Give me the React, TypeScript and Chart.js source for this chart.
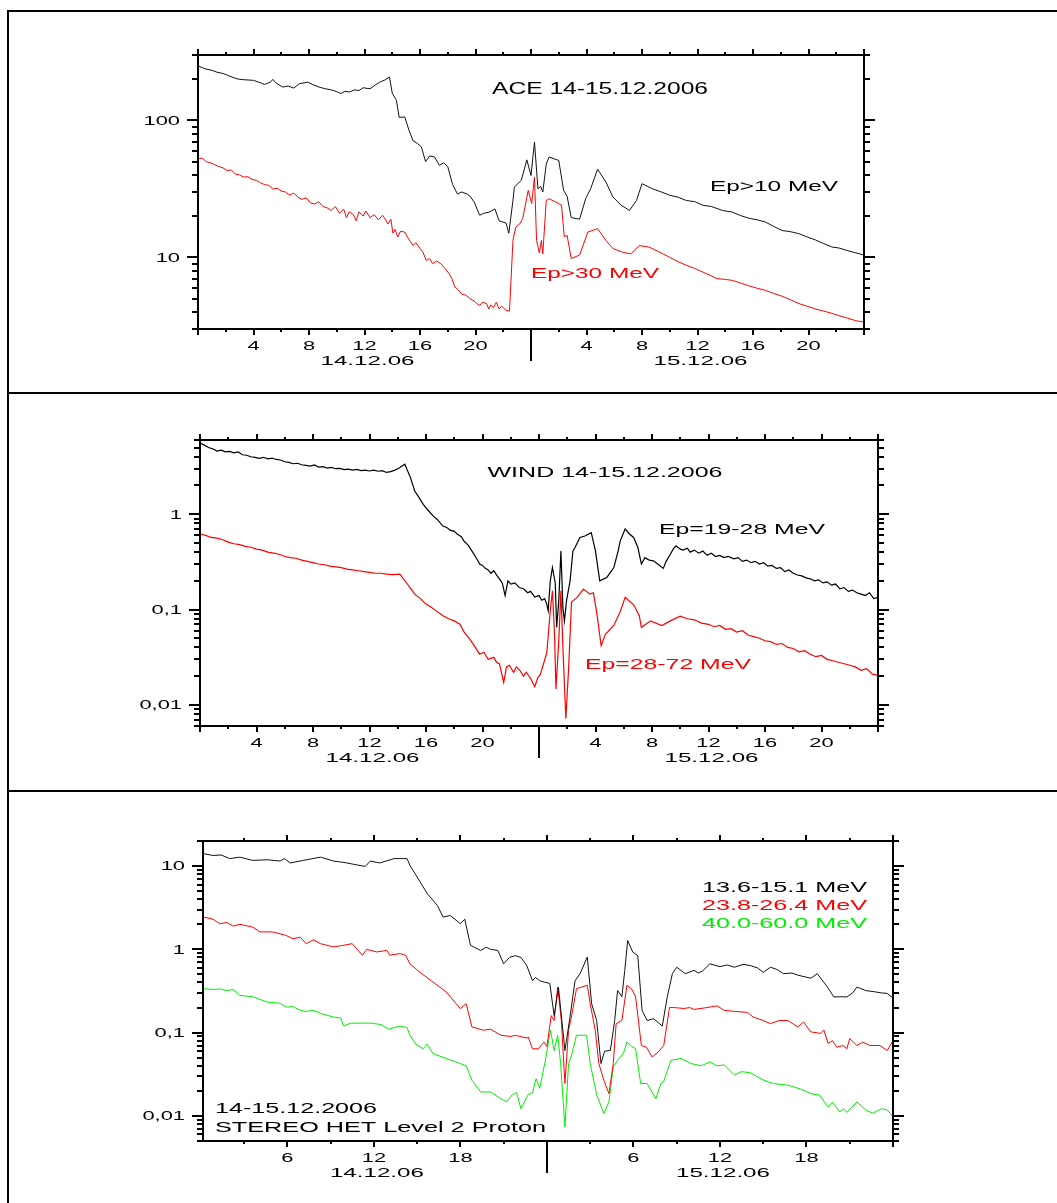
import React, { useEffect, useRef } from 'react';
import { Chart, registerables } from 'chart.js';

Chart.register(...registerables);

// ---- ACE, 14-15.12.2006: [hours since 14.12 00 UT, proton flux] ----
const aceP10: [number, number][] = [
  [0, 250], [0.5, 238], [1.0, 232], [1.35, 225], [1.8, 220], [2.3, 210], [2.8, 201], [3.3, 198],
  [4.0, 196], [4.5, 188], [4.8, 183], [5.2, 190], [5.4, 199], [5.6, 188], [6.1, 175], [6.5, 178],
  [6.9, 172], [7.3, 185], [7.9, 190], [8.3, 182], [8.8, 174], [9.2, 170], [9.7, 166], [10.0, 162],
  [10.3, 157], [10.6, 163], [10.9, 161], [11.3, 167], [11.6, 165], [11.9, 173], [12.4, 170], [12.8, 182],
  [13.1, 190], [13.5, 198], [13.8, 207], [14.0, 158], [14.3, 140], [14.5, 105], [14.9, 106], [15.2, 85],
  [15.5, 71], [15.8, 68], [16.1, 64], [16.4, 50], [16.7, 55], [17.05, 54], [17.4, 47], [17.7, 49],
  [18.0, 46], [18.35, 34], [18.7, 29], [19.0, 30], [19.4, 29], [19.6, 28], [19.9, 25.4], [20.3, 20.3],
  [20.6, 21], [21.0, 21.4], [21.4, 22.6], [21.7, 18.5], [22.2, 17.8], [22.4, 15], [22.7, 26], [22.8, 32.6],
  [23.3, 36.5], [23.7, 51.5], [24.0, 39.6], [24.25, 69.5], [24.5, 31.7], [24.7, 33], [24.85, 30], [25.1, 48],
  [25.3, 54], [26.0, 51], [26.35, 30.8], [26.6, 28], [26.9, 19.5], [27.5, 19], [27.95, 27], [28.3, 31.7],
  [28.8, 44], [29.4, 35.5], [29.9, 27.6], [30.5, 24], [31.1, 22], [31.6, 26], [32.0, 34.5], [32.75, 31.7],
  [33.4, 30], [34.0, 28.4], [34.6, 27.5], [35.2, 26], [35.8, 25.5], [36.4, 24], [37.0, 23.5], [37.8, 22],
  [38.5, 21.4], [39.1, 20.2], [39.7, 19.3], [40.3, 18.8], [40.9, 18.1], [41.5, 16.8], [42.1, 15.7], [42.7, 15.4],
  [43.3, 14.9], [43.9, 14.1], [44.5, 13.4], [45.1, 12.6], [45.7, 11.9], [46.2, 11.7], [46.8, 11.2], [47.4, 10.8],
  [48, 10.4],
];

const aceP30: [number, number][] = [
  [0, 52.5], [0.3, 53], [0.6, 50], [0.9, 49], [1.2, 47.5], [1.5, 46], [1.8, 45], [2.1, 43],
  [2.4, 43.5], [2.7, 40.5], [3.0, 40], [3.3, 38.5], [3.6, 38.8], [3.9, 37], [4.2, 36.5], [4.5, 35],
  [4.8, 34], [5.1, 33.5], [5.4, 31.5], [5.7, 32], [6.0, 30.5], [6.3, 30], [6.6, 28.5], [6.9, 29.5],
  [7.2, 27.5], [7.5, 26.5], [7.8, 27.2], [8.1, 25], [8.4, 24.5], [8.7, 25.5], [9.0, 23.5], [9.3, 23],
  [9.6, 22], [9.9, 23.5], [10.2, 21], [10.5, 22.5], [10.7, 19.5], [10.9, 21.5], [11.2, 20.5], [11.4, 18.5],
  [11.6, 21.5], [11.9, 20], [12.1, 21.8], [12.4, 19.5], [12.7, 20.5], [13.0, 18.8], [13.3, 20.3], [13.5, 19],
  [13.7, 17.5], [13.9, 19], [14.05, 15], [14.2, 16], [14.4, 14.1], [14.6, 15.5], [14.9, 15.3], [15.2, 13.5],
  [15.5, 12.2], [15.7, 12.8], [16.0, 11.6], [16.2, 11], [16.45, 9.5], [16.7, 9.8], [16.9, 9.0], [17.2, 9.4],
  [17.5, 9.0], [17.8, 8.3], [18.1, 7.6], [18.3, 7.0], [18.5, 6.1], [18.75, 5.8], [19.0, 5.4], [19.3, 5.3],
  [19.6, 5.0], [19.9, 4.8], [20.1, 4.6], [20.3, 4.46], [20.5, 4.7], [20.8, 4.6], [20.95, 4.2], [21.1, 4.5],
  [21.3, 4.3], [21.5, 4.7], [21.7, 4.2], [21.9, 4.4], [22.2, 4.1], [22.45, 4.05], [22.7, 13.3], [22.9, 16.6],
  [23.2, 17.6], [23.4, 19.2], [23.8, 30.8], [24.05, 24.7], [24.25, 38.5], [24.4, 13.3], [24.6, 10.8], [24.75, 13.3],
  [24.85, 10.6], [25.1, 26], [25.3, 26.8], [26.0, 24.7], [26.2, 24], [26.4, 14.1], [26.6, 14.5], [26.9, 9.8],
  [27.5, 10.4], [28.1, 15.3], [28.5, 15.8], [28.8, 16.2], [29.4, 13.3], [29.9, 11.6], [30.6, 10.9], [31.2, 10.6],
  [31.8, 12.2], [32.5, 11.9], [33.2, 11], [34.0, 10.0], [34.6, 9.3], [35.2, 8.75], [35.8, 8.3], [36.4, 7.8],
  [36.9, 7.4], [37.4, 7.0], [38.0, 6.9], [38.5, 6.8], [39.1, 6.5], [39.7, 6.2], [40.3, 5.95], [40.9, 5.74],
  [41.5, 5.45], [42.1, 5.2], [42.7, 4.9], [43.3, 4.6], [43.9, 4.4], [44.5, 4.2], [45.1, 4.05], [45.7, 3.9],
  [46.2, 3.75], [46.8, 3.6], [47.4, 3.45], [48, 3.37],
];

// ---- WIND, 14-15.12.2006 ----
const wind19to28: [number, number][] = [
  [0, 5.6], [0.3, 5.3], [0.6, 5.0], [0.9, 4.85], [1.2, 4.6], [1.5, 4.7], [1.8, 4.5], [2.1, 4.55],
  [2.4, 4.4], [2.7, 4.5], [3.0, 4.2], [3.3, 4.15], [3.6, 4.0], [3.9, 3.95], [4.2, 3.85], [4.5, 3.95],
  [4.8, 3.8], [5.1, 3.88], [5.4, 3.75], [5.7, 3.7], [6.0, 3.55], [6.3, 3.5], [6.6, 3.38], [6.9, 3.42],
  [7.2, 3.3], [7.5, 3.25], [7.8, 3.2], [8.1, 3.28], [8.4, 3.12], [8.7, 3.15], [9.0, 3.05], [9.3, 3.1],
  [9.6, 3.0], [9.9, 3.02], [10.2, 2.93], [10.5, 2.97], [10.8, 2.9], [11.1, 2.95], [11.4, 2.86], [11.7, 2.9],
  [12.0, 2.84], [12.3, 2.9], [12.6, 2.82], [12.9, 2.86], [13.2, 2.74], [13.5, 2.8], [13.8, 2.9], [14.1, 3.05],
  [14.5, 3.34], [14.9, 2.42], [15.2, 1.75], [15.5, 1.5], [15.8, 1.27], [16.1, 1.12], [16.5, 0.96], [16.8, 0.88],
  [17.2, 0.75], [17.5, 0.72], [17.7, 0.68], [18.0, 0.66], [18.2, 0.62], [18.5, 0.58], [18.7, 0.52], [19.0, 0.47],
  [19.3, 0.4], [19.5, 0.36], [19.8, 0.3], [20.0, 0.29], [20.2, 0.27], [20.4, 0.26], [20.6, 0.24], [20.8, 0.255],
  [21.0, 0.23], [21.2, 0.21], [21.4, 0.19], [21.6, 0.14], [21.8, 0.2], [22.0, 0.185], [22.3, 0.19], [22.6, 0.17],
  [22.9, 0.165], [23.2, 0.15], [23.4, 0.155], [23.7, 0.135], [24.0, 0.14], [24.2, 0.125], [24.4, 0.13], [24.55, 0.114],
  [24.65, 0.097], [24.8, 0.2], [24.95, 0.276], [25.15, 0.19], [25.25, 0.065], [25.4, 0.124], [25.55, 0.41], [25.7, 0.1],
  [25.8, 0.076], [25.95, 0.124], [26.2, 0.2], [26.4, 0.41], [26.55, 0.447], [26.9, 0.57], [27.25, 0.59], [27.7, 0.64],
  [28.0, 0.41], [28.3, 0.2], [28.8, 0.217], [29.3, 0.276], [29.6, 0.41], [29.75, 0.525], [30.1, 0.7], [30.4, 0.62],
  [30.7, 0.57], [31.0, 0.447], [31.25, 0.3], [31.5, 0.35], [31.8, 0.33], [32.1, 0.324], [32.4, 0.3], [32.8, 0.27],
  [33.0, 0.32], [33.3, 0.38], [33.5, 0.43], [33.7, 0.466], [34.0, 0.43], [34.2, 0.42], [34.5, 0.44], [34.7, 0.4],
  [35.0, 0.42], [35.3, 0.39], [35.6, 0.41], [35.9, 0.37], [36.2, 0.39], [36.5, 0.36], [36.8, 0.37], [37.1, 0.35],
  [37.4, 0.36], [37.8, 0.34], [38.1, 0.35], [38.4, 0.32], [38.7, 0.33], [39.0, 0.31], [39.3, 0.32], [39.6, 0.3],
  [39.9, 0.31], [40.2, 0.285], [40.5, 0.29], [40.8, 0.27], [41.1, 0.275], [41.4, 0.25], [41.7, 0.26], [42.0, 0.24],
  [42.3, 0.23], [42.6, 0.225], [42.9, 0.215], [43.2, 0.21], [43.5, 0.2], [43.8, 0.205], [44.1, 0.19], [44.4, 0.195],
  [44.7, 0.18], [45.0, 0.185], [45.3, 0.165], [45.6, 0.17], [45.9, 0.155], [46.2, 0.16], [46.5, 0.15], [46.8, 0.145],
  [47.1, 0.14], [47.4, 0.15], [47.7, 0.13], [48, 0.134],
];

const wind28to72: [number, number][] = [
  [0, 0.62], [0.4, 0.6], [0.8, 0.57], [1.2, 0.56], [1.6, 0.54], [2.0, 0.51], [2.4, 0.49], [2.8, 0.48],
  [3.2, 0.46], [3.6, 0.45], [4.0, 0.43], [4.4, 0.42], [4.8, 0.4], [5.2, 0.39], [5.6, 0.38], [6.0, 0.36],
  [6.4, 0.35], [6.8, 0.345], [7.2, 0.33], [7.6, 0.32], [8.0, 0.31], [8.4, 0.3], [8.8, 0.295], [9.2, 0.285],
  [9.6, 0.28], [10.0, 0.275], [10.4, 0.265], [10.8, 0.26], [11.2, 0.255], [11.6, 0.25], [12.0, 0.245], [12.4, 0.24],
  [12.8, 0.24], [13.2, 0.235], [13.6, 0.232], [14.15, 0.235], [14.6, 0.192], [15.0, 0.16], [15.2, 0.145], [15.6, 0.13],
  [16.0, 0.114], [16.4, 0.105], [16.8, 0.095], [17.2, 0.086], [17.6, 0.08], [18.0, 0.076], [18.4, 0.07], [18.7, 0.058],
  [19.1, 0.049], [19.4, 0.042], [19.8, 0.034], [20.1, 0.0356], [20.4, 0.03], [20.8, 0.0315], [21.0, 0.028], [21.2, 0.0269],
  [21.5, 0.0172], [21.7, 0.025], [21.9, 0.026], [22.2, 0.022], [22.4, 0.025], [22.65, 0.0229], [22.9, 0.02], [23.1, 0.022],
  [23.4, 0.019], [23.7, 0.0155], [23.9, 0.019], [24.1, 0.021], [24.55, 0.035], [24.8, 0.097], [24.95, 0.157], [25.1, 0.055],
  [25.2, 0.0147], [25.4, 0.047], [25.55, 0.157], [25.7, 0.037], [25.9, 0.0072], [26.1, 0.0247], [26.3, 0.12], [26.7, 0.134],
  [27.15, 0.164], [27.6, 0.145], [27.85, 0.15], [28.1, 0.09], [28.4, 0.0418], [28.7, 0.055], [29.3, 0.068], [29.75, 0.095],
  [30.1, 0.134], [30.7, 0.112], [31.1, 0.086], [31.25, 0.065], [31.9, 0.076], [32.7, 0.068], [33.3, 0.076], [34.0, 0.085],
  [34.5, 0.08], [35.0, 0.078], [35.5, 0.072], [36.0, 0.07], [36.4, 0.066], [36.8, 0.068], [37.2, 0.062], [37.6, 0.063],
  [38.0, 0.058], [38.4, 0.06], [38.8, 0.054], [39.2, 0.052], [39.6, 0.05], [40.0, 0.047], [40.4, 0.046], [40.8, 0.043],
  [41.2, 0.044], [41.6, 0.04], [42.0, 0.039], [42.4, 0.036], [42.8, 0.037], [43.2, 0.034], [43.6, 0.032], [44.0, 0.033],
  [44.4, 0.03], [44.8, 0.029], [45.2, 0.028], [45.6, 0.027], [46.0, 0.026], [46.4, 0.025], [46.8, 0.023], [47.2, 0.024],
  [47.6, 0.021], [48, 0.0204],
];

// ---- STEREO HET Level 2 protons, 14-15.12.2006 ----
const stereo13to15: [number, number][] = [
  [0.2, 14.1], [0.85, 13.4], [1.4, 13.6], [2.0, 12.3], [2.7, 12.8], [3.6, 11.7], [4.6, 11.9], [5.5, 11.5],
  [5.8, 12.3], [6.2, 10.9], [7.1, 11.7], [8.3, 12.8], [9.2, 11.5], [10.0, 11.0], [10.6, 10.5], [11.4, 9.9],
  [11.75, 11.5], [12.4, 10.9], [13.4, 12.3], [14.3, 12.3], [14.5, 10.2], [15.0, 7.4], [15.7, 4.67], [16.4, 3.37],
  [16.8, 2.44], [17.3, 2.55], [18.0, 2.03], [18.3, 2.3], [18.7, 1.12], [19.4, 0.97], [19.8, 1.06], [20.1, 1.0],
  [20.6, 0.97], [21.0, 0.67], [21.4, 0.8], [21.8, 0.84], [22.2, 0.8], [22.6, 0.64], [23.0, 0.42], [23.2, 0.46],
  [23.5, 0.42], [23.8, 0.405], [24.2, 0.39], [24.5, 0.16], [24.8, 0.35], [25.25, 0.061], [25.6, 0.154], [25.95, 0.42],
  [26.3, 0.51], [26.8, 0.81], [27.1, 0.223], [27.45, 0.14], [27.75, 0.0425], [28.0, 0.06], [28.4, 0.061], [28.7, 0.14],
  [28.9, 0.32], [29.2, 0.27], [29.4, 0.56], [29.6, 1.28], [29.95, 0.93], [30.3, 0.84], [30.6, 0.185], [30.95, 0.14],
  [31.4, 0.147], [32.0, 0.12], [32.35, 0.27], [32.7, 0.51], [33.0, 0.61], [33.6, 0.51], [34.2, 0.56], [34.5, 0.52],
  [34.8, 0.55], [35.3, 0.67], [36.0, 0.62], [36.5, 0.65], [37.0, 0.61], [37.6, 0.66], [38.1, 0.64], [38.6, 0.6],
  [39.0, 0.53], [39.5, 0.61], [40.0, 0.57], [40.4, 0.51], [41.0, 0.52], [41.4, 0.49], [42.3, 0.45], [42.75, 0.51],
  [43.45, 0.353], [43.9, 0.268], [44.4, 0.27], [44.8, 0.268], [45.2, 0.3], [45.5, 0.353], [46.1, 0.32], [46.7, 0.31],
  [47.2, 0.3], [47.6, 0.296], [48, 0.26],
];

const stereo23to26: [number, number][] = [
  [0.2, 2.44], [0.85, 2.3], [1.3, 2.03], [1.8, 2.1], [2.25, 1.9], [2.7, 2.0], [3.6, 1.85], [4.1, 1.62],
  [5.0, 1.62], [5.9, 1.47], [6.4, 1.34], [6.9, 1.4], [7.3, 1.17], [7.8, 1.3], [8.3, 1.17], [9.2, 1.07],
  [9.9, 1.12], [10.5, 1.17], [11.2, 0.85], [11.5, 1.0], [12.2, 0.93], [12.9, 0.97], [13.1, 0.85], [13.8, 0.89],
  [14.2, 0.85], [14.5, 0.67], [15.2, 0.53], [16.1, 0.405], [17.0, 0.31], [18.0, 0.194], [18.4, 0.223], [18.8, 0.117],
  [19.6, 0.107], [20.1, 0.11], [20.8, 0.093], [21.5, 0.09], [21.8, 0.093], [22.6, 0.086], [22.7, 0.089], [23.0, 0.064],
  [23.4, 0.064], [23.8, 0.077], [24.0, 0.068], [24.3, 0.16], [24.5, 0.14], [24.75, 0.353], [25.0, 0.14], [25.25, 0.0245],
  [25.5, 0.107], [25.7, 0.154], [26.05, 0.337], [26.8, 0.37], [27.0, 0.223], [27.35, 0.107], [27.6, 0.0425], [27.95, 0.0268],
  [28.3, 0.0185], [28.6, 0.0425], [28.8, 0.128], [29.2, 0.14], [29.55, 0.37], [29.9, 0.33], [30.15, 0.27], [30.55, 0.07],
  [30.9, 0.067], [31.3, 0.051], [31.7, 0.058], [32.1, 0.07], [32.5, 0.2], [32.8, 0.2], [33.5, 0.195], [33.9, 0.2],
  [34.2, 0.19], [35.1, 0.2], [35.8, 0.21], [36.3, 0.185], [37.0, 0.18], [37.9, 0.175], [38.3, 0.154], [39.0, 0.14],
  [39.5, 0.128], [40.1, 0.14], [40.7, 0.14], [41.4, 0.117], [41.8, 0.134], [42.3, 0.102], [43.0, 0.098], [43.2, 0.108],
  [43.5, 0.074], [43.8, 0.08], [44.1, 0.067], [44.55, 0.07], [44.8, 0.064], [45.0, 0.085], [45.5, 0.07], [45.9, 0.077],
  [46.4, 0.07], [47.1, 0.07], [47.6, 0.061], [48, 0.08],
];

const stereo40to60: [number, number][] = [
  [0.2, 0.337], [0.85, 0.33], [1.3, 0.335], [1.8, 0.32], [2.25, 0.33], [2.7, 0.28], [3.6, 0.27], [4.6, 0.233],
  [5.5, 0.225], [5.9, 0.203], [6.4, 0.205], [6.9, 0.185], [7.3, 0.18], [7.8, 0.185], [8.3, 0.17], [9.2, 0.154],
  [9.7, 0.15], [9.9, 0.12], [10.4, 0.13], [11.2, 0.13], [11.8, 0.13], [12.5, 0.125], [13.0, 0.11], [13.8, 0.12],
  [14.3, 0.115], [14.5, 0.093], [14.9, 0.073], [15.4, 0.064], [15.7, 0.073], [16.1, 0.056], [17.0, 0.049], [18.0, 0.0425],
  [18.4, 0.04], [18.8, 0.0268], [19.4, 0.0194], [20.1, 0.0194], [20.6, 0.017], [21.2, 0.0147], [21.6, 0.018], [21.9, 0.019],
  [22.2, 0.0122], [22.7, 0.018], [23.0, 0.019], [23.25, 0.028], [23.5, 0.0215], [23.9, 0.047], [24.25, 0.107], [24.5, 0.061],
  [24.75, 0.093], [24.95, 0.0425], [25.25, 0.0074], [25.5, 0.0425], [25.7, 0.053], [26.05, 0.093], [26.75, 0.093], [27.0, 0.0425],
  [27.45, 0.018], [27.95, 0.0107], [28.3, 0.0147], [28.6, 0.039], [29.0, 0.049], [29.3, 0.056], [29.55, 0.077], [29.9, 0.068],
  [30.15, 0.064], [30.5, 0.0245], [30.95, 0.0245], [31.55, 0.016], [31.9, 0.0245], [32.1, 0.026], [32.6, 0.0466], [33.3, 0.049],
  [34.0, 0.0425], [34.7, 0.04], [35.3, 0.0445], [35.8, 0.04], [36.3, 0.041], [37.0, 0.031], [37.5, 0.034], [38.1, 0.033],
  [39.0, 0.027], [39.7, 0.0245], [40.7, 0.0234], [41.6, 0.021], [42.3, 0.0185], [42.9, 0.0178], [43.5, 0.0128], [43.8, 0.0147],
  [44.3, 0.0112], [44.6, 0.0122], [44.8, 0.011], [45.5, 0.0147], [46.1, 0.0118], [46.6, 0.0108], [47.2, 0.0122], [47.6, 0.0118],
  [48, 0.0098],
];

// ---- axis labels ----
const hourTicks4 = [4, 8, 12, 16, 20, 28, 32, 36, 40, 44];
const hourTickLabels4 = ['4', '8', '12', '16', '20', '4', '8', '12', '16', '20'];
const hourTicks6 = [6, 12, 18, 30, 36, 42];
const hourTickLabels6 = ['6', '12', '18', '6', '12', '18'];
const dayTicks = [12, 36];
const dayLabels = ['14.12.06', '15.12.06'];
const aceDecades = [10, 100];
const aceDecadeLabels = ['10', '100'];
const windDecades = [0.01, 0.1, 1];
const windDecadeLabels = ['0,01', '0,1', '1'];
const stereoDecades = [0.01, 0.1, 1, 10];
const stereoDecadeLabels = ['0,01', '0,1', '1', '10'];

const FONT = '"Liberation Sans", Arial, Helvetica, sans-serif';
const PAGE_W = 1057;

type Note = { text: string; x: number; y: number; size: number; width: number; align: CanvasTextAlign; color: string };
type Line = { data: [number, number][]; color: string; width: number };
type PanelSpec = {
  top: number; height: number;
  plot: { left: number; top: number; right: number; bottom: number };
  xMin: number; xMax: number; yMin: number; yMax: number;
  majorStep: number; minorStep: number;
  hourTicks: number[]; hourLabels: string[];
  decades: number[]; decadeLabels: string[];
  lines: Line[]; notes: Note[];
};

const RED = '#ff0000';
const GREEN = '#00ee00';

const panels: PanelSpec[] = [
  {
    top: 12, height: 380,
    plot: { left: 198, top: 55, right: 864, bottom: 329 },
    xMin: 0, xMax: 48, yMin: 3, yMax: 300, majorStep: 4, minorStep: 2,
    hourTicks: hourTicks4, hourLabels: hourTickLabels4,
    decades: aceDecades, decadeLabels: aceDecadeLabels,
    lines: [
      { data: aceP10, color: '#111111', width: 1 },
      { data: aceP30, color: RED, width: 1 },
    ],
    notes: [
      { text: 'ACE 14-15.12.2006', x: 600, y: 94, size: 16, width: 216, align: 'center', color: '#000' },
      { text: 'Ep>10 MeV', x: 710, y: 190.5, size: 15, width: 128, align: 'left', color: '#000' },
      { text: 'Ep>30 MeV', x: 531, y: 278, size: 15, width: 128, align: 'left', color: RED },
    ],
  },
  {
    top: 394, height: 396,
    plot: { left: 200, top: 440, right: 878, bottom: 726 },
    xMin: 0, xMax: 48, yMin: 0.006, yMax: 6, majorStep: 4, minorStep: 2,
    hourTicks: hourTicks4, hourLabels: hourTickLabels4,
    decades: windDecades, decadeLabels: windDecadeLabels,
    lines: [
      { data: wind19to28, color: '#000000', width: 1.2 },
      { data: wind28to72, color: RED, width: 1.2 },
    ],
    notes: [
      { text: 'WIND 14-15.12.2006', x: 605, y: 476.5, size: 15, width: 235, align: 'center', color: '#000' },
      { text: 'Ep=19-28 MeV', x: 659, y: 534, size: 15, width: 166, align: 'left', color: '#000' },
      { text: 'Ep=28-72 MeV', x: 585, y: 669, size: 15, width: 166, align: 'left', color: RED },
    ],
  },
  {
    top: 792, height: 411,
    plot: { left: 203, top: 841, right: 893, bottom: 1141 },
    xMin: 0.15, xMax: 48, yMin: 0.005, yMax: 20, majorStep: 6, minorStep: 3,
    hourTicks: hourTicks6, hourLabels: hourTickLabels6,
    decades: stereoDecades, decadeLabels: stereoDecadeLabels,
    lines: [
      { data: stereo13to15, color: '#111111', width: 1 },
      { data: stereo23to26, color: RED, width: 1 },
      { data: stereo40to60, color: GREEN, width: 1 },
    ],
    notes: [
      { text: '13.6-15.1 MeV', x: 702, y: 891.5, size: 15, width: 165, align: 'left', color: '#000' },
      { text: '23.8-26.4 MeV', x: 702, y: 910, size: 15, width: 165, align: 'left', color: RED },
      { text: '40.0-60.0 MeV', x: 702, y: 928, size: 15, width: 165, align: 'left', color: GREEN },
      { text: '14-15.12.2006', x: 215, y: 1113, size: 14.5, width: 162, align: 'left', color: '#000' },
      { text: 'STEREO HET Level 2 Proton', x: 215, y: 1131.5, size: 14.5, width: 331, align: 'left', color: '#000' },
    ],
  },
];

// Text squeezed or widened horizontally to a fixed width (or by a fixed factor).
function wideText(
  ctx: CanvasRenderingContext2D, text: string, x: number, y: number,
  size: number, align: CanvasTextAlign, color: string, width?: number, stretch = 1.75,
) {
  ctx.save();
  ctx.font = `${size}px ${FONT}`;
  const sx = width ? width / ctx.measureText(text).width : stretch;
  ctx.translate(x, y);
  ctx.scale(sx, 1);
  ctx.textAlign = align;
  ctx.textBaseline = 'alphabetic';
  ctx.fillStyle = color;
  ctx.fillText(text, 0, 0);
  ctx.restore();
}

function makeFramePlugin(spec: PanelSpec) {
  return {
    id: 'frameAndTicks',
    afterDraw(chart: any) {
      const ctx: CanvasRenderingContext2D = chart.ctx;
      const { left, right, top, bottom } = chart.chartArea;
      const xs = chart.scales.x;
      const ys = chart.scales.y;
      ctx.save();
      ctx.strokeStyle = '#000';
      ctx.lineWidth = 2;
      ctx.lineCap = 'butt';
      ctx.strokeRect(left, top, right - left, bottom - top);

      // hour ticks, outward on bottom and top
      const eps = 1e-6;
      const first = Math.ceil((spec.xMin - eps) / spec.minorStep) * spec.minorStep;
      ctx.beginPath();
      for (let h = first; h <= spec.xMax + eps; h += spec.minorStep) {
        const px = Math.round(xs.getPixelForValue(h));
        const major = Math.abs(h / spec.majorStep - Math.round(h / spec.majorStep)) < eps;
        const len = major ? 6 : 3;
        ctx.moveTo(px, bottom);
        ctx.lineTo(px, bottom + len);
        ctx.moveTo(px, top);
        ctx.lineTo(px, top - len);
      }
      ctx.stroke();

      // day boundary marker
      const mid = Math.round(xs.getPixelForValue(24));
      ctx.beginPath();
      ctx.moveTo(mid, bottom);
      ctx.lineTo(mid, bottom + 32);
      ctx.stroke();

      // logarithmic ticks, outward on left and right
      const dLo = Math.floor(Math.log10(spec.yMin)) - 1;
      const dHi = Math.ceil(Math.log10(spec.yMax)) + 1;
      ctx.beginPath();
      for (let d = dLo; d <= dHi; d++) {
        for (let m = 1; m <= 9; m++) {
          const v = m * Math.pow(10, d);
          if (v < spec.yMin * (1 - 1e-9) || v > spec.yMax * (1 + 1e-9)) continue;
          const py = Math.round(ys.getPixelForValue(v));
          const len = m === 1 ? 11 : 6;
          ctx.moveTo(left, py);
          ctx.lineTo(left - len, py);
          ctx.moveTo(right, py);
          ctx.lineTo(right + len, py);
        }
      }
      ctx.stroke();
      ctx.restore();

      // tick labels
      spec.hourTicks.forEach((h, i) => {
        wideText(ctx, spec.hourLabels[i], xs.getPixelForValue(h), bottom + 21, 12.5, 'center', '#000', undefined, 1.75);
      });
      dayTicks.forEach((h, i) => {
        wideText(ctx, dayLabels[i], xs.getPixelForValue(h) + 3, bottom + 36, 13, 'center', '#000', 94);
      });
      spec.decades.forEach((v, i) => {
        wideText(ctx, spec.decadeLabels[i], left - 18, ys.getPixelForValue(v) + 4.4, 12.5, 'right', '#000', undefined, 1.75);
      });

      // annotations
      spec.notes.forEach((n) => {
        wideText(ctx, n.text, n.x, n.y - spec.top, n.size, n.align, n.color, n.width);
      });
    },
  };
}

function Panel({ spec }: { spec: PanelSpec }) {
  const ref = useRef<HTMLCanvasElement | null>(null);
  useEffect(() => {
    const canvas = ref.current;
    if (!canvas) return;
    const chart = new Chart(canvas, {
      type: 'line',
      data: {
        datasets: spec.lines.map((l) => ({
          data: l.data.map(([x, y]) => ({ x, y })),
          borderColor: l.color,
          borderWidth: l.width,
          pointRadius: 0,
          tension: 0,
          fill: false,
        })),
      },
      options: {
        responsive: false,
        animation: false,
        events: [],
        layout: {
          padding: {
            left: spec.plot.left,
            right: PAGE_W - spec.plot.right,
            top: spec.plot.top - spec.top,
            bottom: spec.top + spec.height - spec.plot.bottom,
          },
        },
        plugins: { legend: { display: false }, tooltip: { enabled: false }, title: { display: false } },
        scales: {
          x: { type: 'linear', min: spec.xMin, max: spec.xMax, display: false },
          y: { type: 'logarithmic', min: spec.yMin, max: spec.yMax, display: false },
        },
      },
      plugins: [makeFramePlugin(spec)],
    } as any);
    return () => chart.destroy();
  }, [spec]);
  return (
    <canvas
      ref={ref}
      width={PAGE_W}
      height={spec.height}
      style={{ position: 'absolute', left: 0, top: spec.top, width: PAGE_W, height: spec.height }}
    />
  );
}

const rule = (style: React.CSSProperties) => (
  <div style={{ position: 'absolute', background: '#000', ...style }} />
);

export default function App() {
  return (
    <div style={{ position: 'absolute', left: 0, top: 0, width: PAGE_W, height: 1203, background: '#fff', overflow: 'hidden' }}>
      {rule({ left: 7, top: 10, width: 1050, height: 2 })}
      {rule({ left: 7, top: 10, width: 2, height: 1193 })}
      {rule({ left: 7, top: 392, width: 1050, height: 2 })}
      {rule({ left: 7, top: 790, width: 1050, height: 2 })}
      {panels.map((p, i) => (
        <Panel key={i} spec={p} />
      ))}
    </div>
  );
}
